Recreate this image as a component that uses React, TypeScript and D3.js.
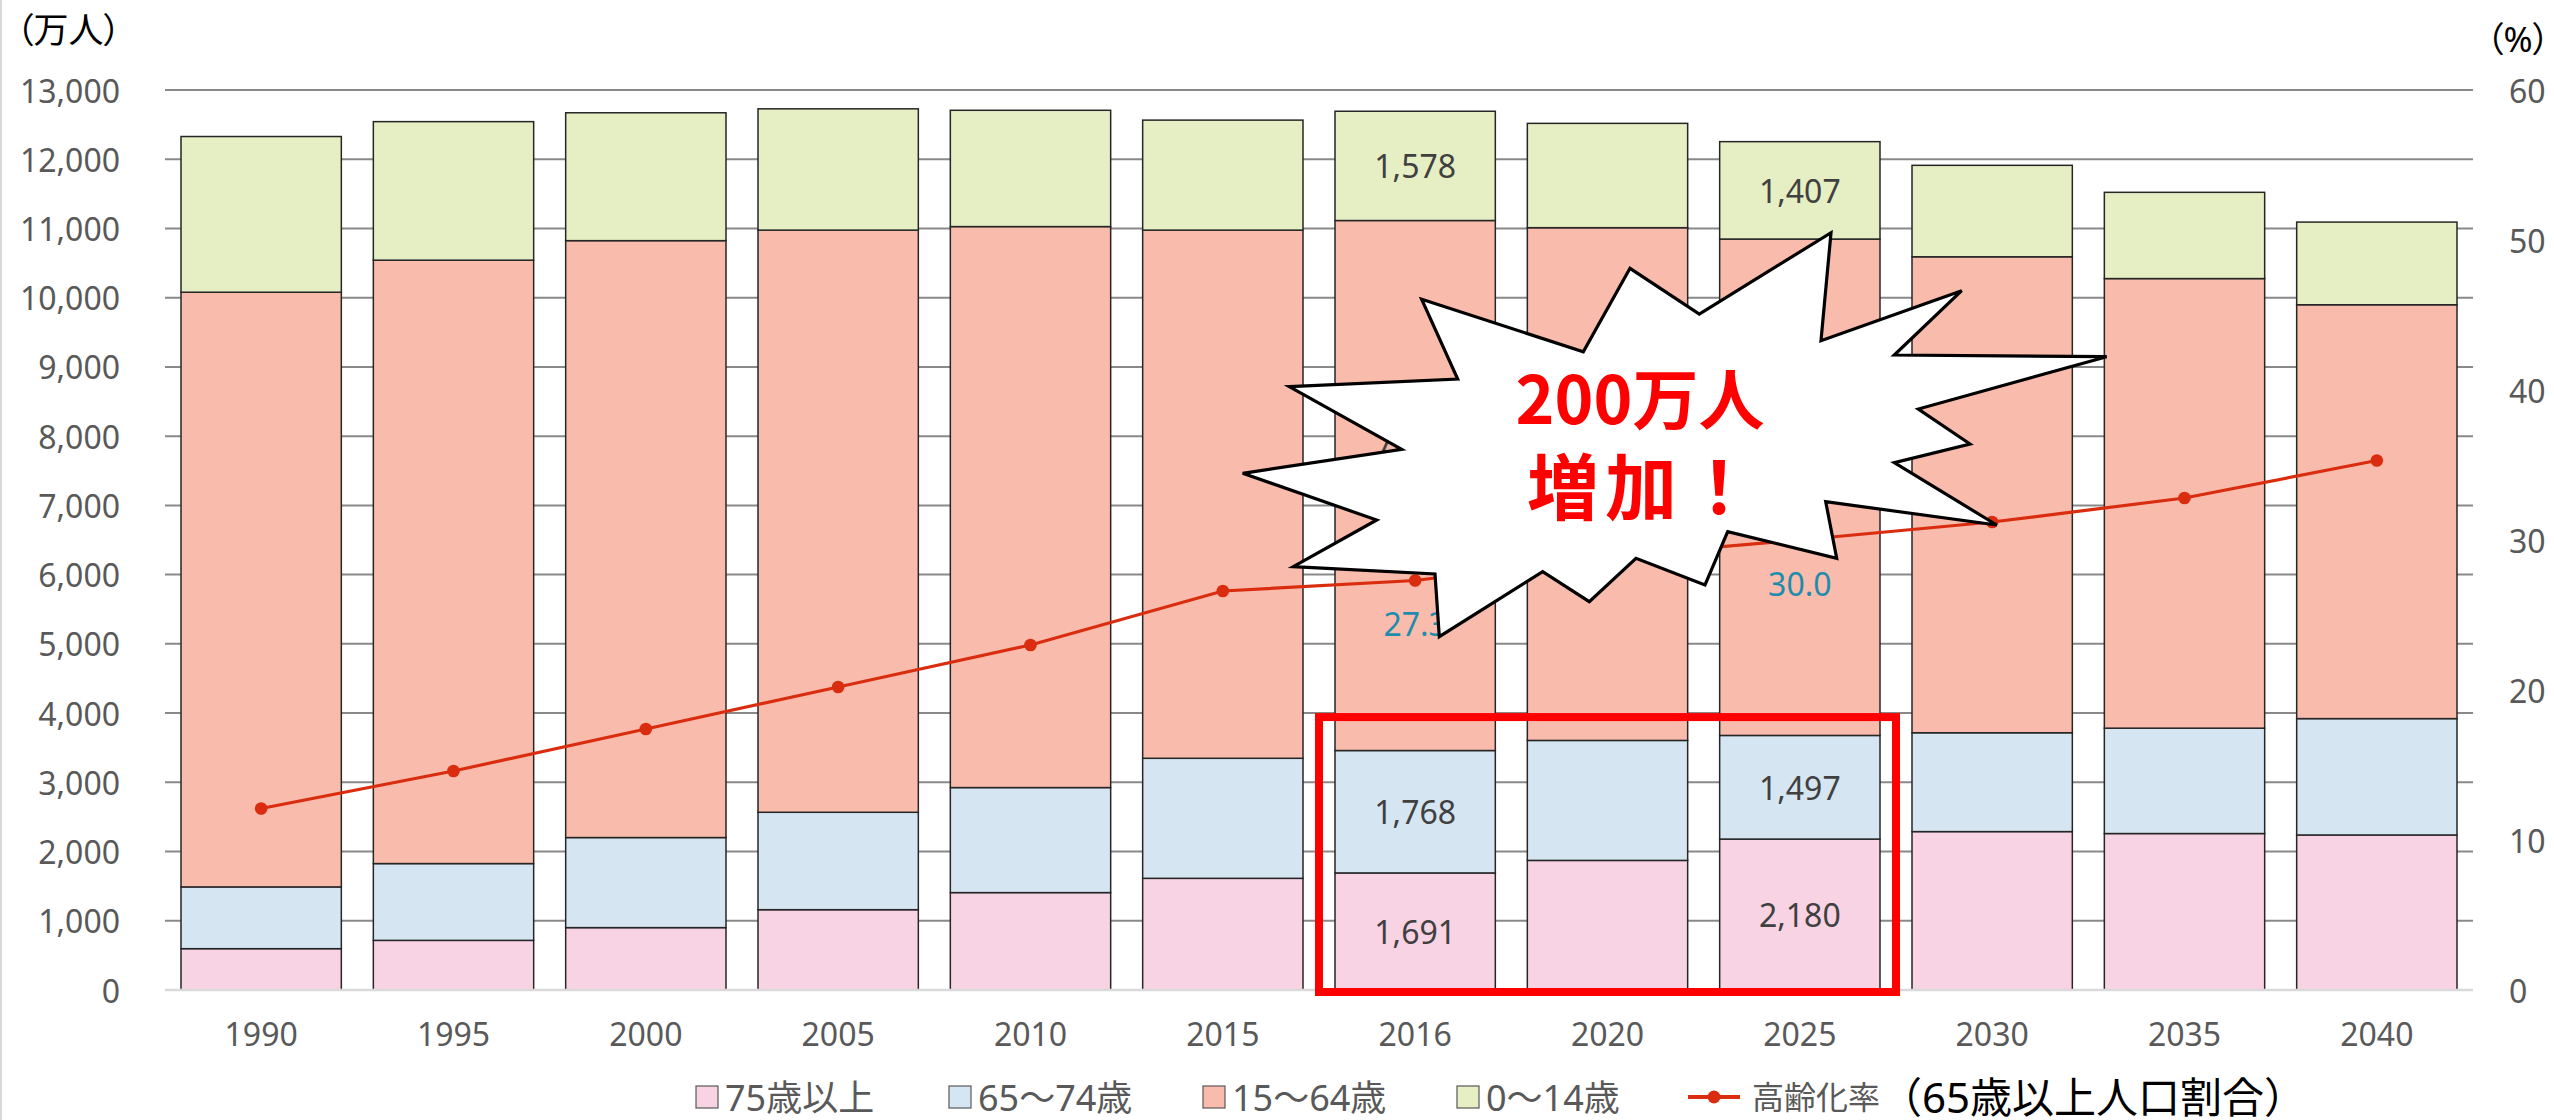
import React from 'react';
import * as d3 from 'd3';

const years = ['1990', '1995', '2000', '2005', '2010', '2015', '2016', '2020', '2025', '2030', '2035', '2040'];
const age75plus = [597, 717, 901, 1160, 1407, 1613, 1691, 1872, 2180, 2288, 2260, 2239];
const age65to74 = [892, 1109, 1301, 1407, 1517, 1734, 1768, 1733, 1497, 1428, 1522, 1681];
const age15to64 = [8590, 8716, 8622, 8409, 8103, 7629, 7656, 7406, 7170, 6875, 6494, 5978];
const age0to14 = [2249, 2001, 1847, 1752, 1680, 1589, 1578, 1507, 1407, 1321, 1246, 1194];
const agingRate = [12.1, 14.6, 17.4, 20.2, 23.0, 26.6, 27.3, 28.9, 30.0, 31.2, 32.8, 35.3];

const seriesKeys = ['s75', 's65', 's15', 's0'];
const seriesNames = ['75歳以上', '65〜74歳', '15〜64歳', '0〜14歳'];
const seriesColors = ['#F8D3E3', '#D5E6F2', '#F9BBAB', '#E6EEC3'];
const lineName = '高齢化率';
const lineNameSuffix = '（65歳以上人口割合）';
const leftTicks = d3.range(0, 13001, 1000);
const rightTicks = [0, 10, 20, 30, 40, 50, 60];
const labeledYears = ['2016', '2025'];
const labeledWorkingAgeYears = ['2016'];
const leftUnit = '（万人）';
const rightUnit = '（%）';
const burstLine1 = '200万人';
const burstLine2 = '増加！';
const boxYears = ['2016', '2025'];
const boxTopValue = 4000;

// decorative starburst outline (annotation shape)
const burstPoints: [number, number][] = [
  [1421.7, 299.3], [1583.3, 351.7], [1630, 268.3], [1699.3, 314], [1831, 232.7], [1821, 340.7],
  [1961.7, 290.7], [1894.3, 355], [2106.7, 356.7], [1918.3, 409], [1970, 444], [1894.3, 462.7],
  [1996.7, 525], [1825.7, 501.7], [1836.7, 558.3], [1727.7, 531.7], [1705, 585], [1636, 558.3],
  [1589.3, 601.7], [1542.7, 571.7], [1439.3, 636.7], [1435, 574], [1293.3, 566.7], [1376.7, 520],
  [1242.7, 473.3], [1401.7, 449.3], [1289.3, 386.7], [1457.7, 379],
];

const FONT = "'Noto Sans', 'Noto Sans CJK JP', sans-serif";
const W = 2554;
const H = 1120;
const M = { left: 165, right: 2473, top: 90, bottom: 990 };

export default function App() {
  const rows = years.map((y, i) => ({
    year: y,
    s75: age75plus[i],
    s65: age65to74[i],
    s15: age15to64[i],
    s0: age0to14[i],
    rate: agingRate[i],
  }));

  const x = d3.scaleBand<string>().domain(years).range([M.left, M.right]).paddingInner(0.1664).paddingOuter(0.0832);
  const yL = d3.scaleLinear().domain([0, 13000]).range([M.bottom, M.top]);
  const yR = d3.scaleLinear().domain([0, 60]).range([M.bottom, M.top]);
  const stack = d3.stack<any>().keys(seriesKeys);
  const stacked = stack(rows);
  const fmt = d3.format(',');
  const cx = (y: string) => (x(y) as number) + x.bandwidth() / 2;

  const line = d3.line<any>().x((d) => cx(d.year)).y((d) => yR(d.rate));

  const step = x.step();
  const boxX1 = (x(boxYears[0]) as number) - (step - x.bandwidth()) / 2;
  const boxX2 = (x(boxYears[1]) as number) + x.bandwidth() + (step - x.bandwidth()) / 2;
  const boxY1 = yL(boxTopValue) + 4;
  const boxY2 = yL(0) + 2;

  const legendX = [696, 949, 1203, 1457];
  const legendY = 1097;
  const palt = { fontFeatureSettings: "'palt'" } as React.CSSProperties;

  return (
    <svg
      width={W}
      height={H}
      style={{ position: 'absolute', left: 0, top: 0, background: '#fff' }}
      fontFamily={FONT}
    >
      <rect x={0} y={0} width={W} height={H} fill="#fff" />
      <line x1={1} x2={1} y1={0} y2={H} stroke="#D9D9D9" strokeWidth={2} />

      {/* gridlines */}
      {leftTicks.filter((t) => t > 0).map((t) => (
        <line key={'g' + t} x1={M.left} x2={M.right} y1={yL(t)} y2={yL(t)} stroke="#898989" strokeWidth={2} />
      ))}

      {/* left ticks */}
      {leftTicks.map((t) => (
        <text key={'lt' + t} x={120} y={yL(t)} textAnchor="end" dominantBaseline="central" fontSize={32} fill="#595959">
          {fmt(t)}
        </text>
      ))}
      {/* right ticks */}
      {rightTicks.map((t) => (
        <text key={'rt' + t} x={2509} y={yR(t)} textAnchor="start" dominantBaseline="central" fontSize={32} fill="#595959">
          {t}
        </text>
      ))}
      <text x={16} y={29} dominantBaseline="central" fontSize={35} fill="#000" style={palt}>{leftUnit}</text>
      <text x={2486} y={38} dominantBaseline="central" fontSize={35} fill="#000" style={palt}>{rightUnit}</text>

      {/* bars */}
      {stacked.map((s, si) => (
        <g key={s.key}>
          {s.map((d: any) => (
            <rect
              key={d.data.year}
              x={x(d.data.year)}
              width={x.bandwidth()}
              y={yL(d[1])}
              height={yL(d[0]) - yL(d[1])}
              fill={seriesColors[si]}
              stroke="#262626"
              strokeWidth={1.5}
            />
          ))}
        </g>
      ))}

      {/* axis line */}
      <line x1={M.left} x2={M.right} y1={yL(0)} y2={yL(0)} stroke="#D9D9D9" strokeWidth={2.5} />

      {/* x labels */}
      {years.map((y) => (
        <text key={'x' + y} x={cx(y)} y={1033} textAnchor="middle" dominantBaseline="central" fontSize={32} fill="#595959">
          {y}
        </text>
      ))}

      {/* segment labels */}
      {stacked.map((s) =>
        s
          .filter((d: any) =>
            s.key === 's15' ? labeledWorkingAgeYears.includes(d.data.year) : labeledYears.includes(d.data.year)
          )
          .map((d: any) => {
            const mid = (yL(d[0]) + yL(d[1])) / 2 - (s.key === 's15' ? 40 : 0);
            return (
              <text
                key={'lab' + s.key + d.data.year}
                x={cx(d.data.year)}
                y={mid}
                textAnchor="middle"
                dominantBaseline="central"
                fontSize={32}
                fill="#404040"
              >
                {fmt(d[1] - d[0])}
              </text>
            );
          })
      )}

      {/* aging rate line */}
      <path d={line(rows) || ''} fill="none" stroke="#DA2D0F" strokeWidth={3.2} />
      {rows.map((r) => (
        <circle key={'c' + r.year} cx={cx(r.year)} cy={yR(r.rate)} r={6.3} fill="#DA2D0F" />
      ))}
      {rows
        .filter((r) => labeledYears.includes(r.year))
        .map((r) => (
          <text
            key={'rl' + r.year}
            x={cx(r.year)}
            y={yR(r.rate) + 43}
            textAnchor="middle"
            dominantBaseline="central"
            fontSize={32}
            fill="#1E8DAD"
          >
            {r.rate.toFixed(1)}
          </text>
        ))}

      {/* starburst */}
      <polygon
        points={burstPoints.map((p) => p.join(',')).join(' ')}
        fill="#fff"
        stroke="#000"
        strokeWidth={3.2}
        strokeLinejoin="miter"
      />
      <text textAnchor="middle" fontWeight="bold" fill="#FF0000" fontFamily="'Noto Sans CJK JP', sans-serif">
        <tspan x={1640} y={424} fontSize={66}>{burstLine1}</tspan>
        <tspan x={1644} y={514} fontSize={72} letterSpacing={6}>{burstLine2}</tspan>
      </text>

      {/* red box */}
      <rect x={boxX1} y={boxY1} width={boxX2 - boxX1} height={boxY2 - boxY1} fill="none" stroke="#FF0000" strokeWidth={8} />

      {/* legend */}
      {seriesNames.map((n, i) => (
        <g key={'lg' + i}>
          <rect x={legendX[i]} y={legendY - 11} width={22} height={22} fill={seriesColors[i]} stroke="#595959" strokeWidth={1.2} />
          <text x={legendX[i] + 29} y={legendY} dominantBaseline="central" fontSize={36} fill="#595959">
            {n}
          </text>
        </g>
      ))}
      <line x1={1688} x2={1740} y1={legendY} y2={legendY} stroke="#DA2D0F" strokeWidth={4} />
      <circle cx={1714} cy={legendY} r={6.5} fill="#DA2D0F" />
      <text x={1752} y={legendY - 1} dominantBaseline="central" fontSize={32} fill="#595959">
        {lineName}
        <tspan fontSize={42} fill="#000">{lineNameSuffix}</tspan>
      </text>
    </svg>
  );
}
